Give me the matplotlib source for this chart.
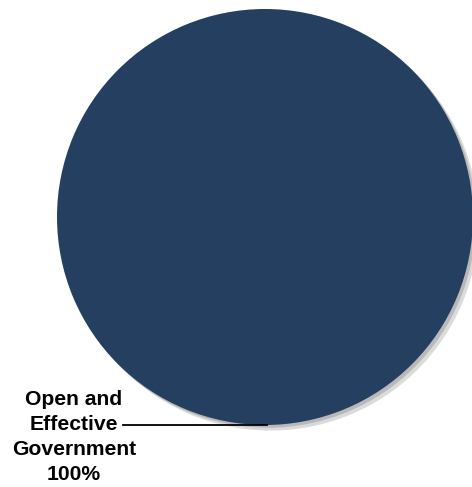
import numpy as np
import matplotlib
matplotlib.use("Agg")
import matplotlib.pyplot as plt
import matplotlib.patheffects as pe

# Data
categories = ["Open and\nEffective\nGovernment"]
shares = [100]
colors = ["#243F60"]

W, H = 472, 487
fig = plt.figure(figsize=(W / 100, H / 100), dpi=100)
ax = fig.add_axes([0, 0, 1, 1])

cx, cy, r = 265, H - 217, 208
wedges, _ = ax.pie(shares, colors=colors, startangle=90, center=(cx, cy),
                   radius=r, wedgeprops=dict(linewidth=0))

# soft shadow to the lower right
for w in wedges:
    w.set_path_effects([
        pe.SimplePatchShadow(offset=(4, -4), shadow_rgbFace="#9a9a9a", alpha=0.35),
        pe.SimplePatchShadow(offset=(2, -2), shadow_rgbFace="#7a7a7a", alpha=0.35),
        pe.Normal(),
    ])

# label with leader line to the bottom of the slice
for w, cat, val in zip(wedges, categories, shares):
    ang = np.deg2rad((w.theta1 + w.theta2) / 2)
    px, py = cx + r * np.cos(ang), cy + r * np.sin(ang)
    ax.plot([123, px + 2], [H - 425, H - 425], color="black", lw=1.3)
    ax.text(74, H - 437, f"{cat}\n{val}%", ha="center", va="center",
            fontsize=15.2, fontweight="bold", family="Liberation Sans",
            linespacing=1.42)

ax.set_xlim(0, W)
ax.set_ylim(0, H)
ax.set_aspect("auto")
ax.axis("off")

fig.savefig("out.png", dpi=100)
